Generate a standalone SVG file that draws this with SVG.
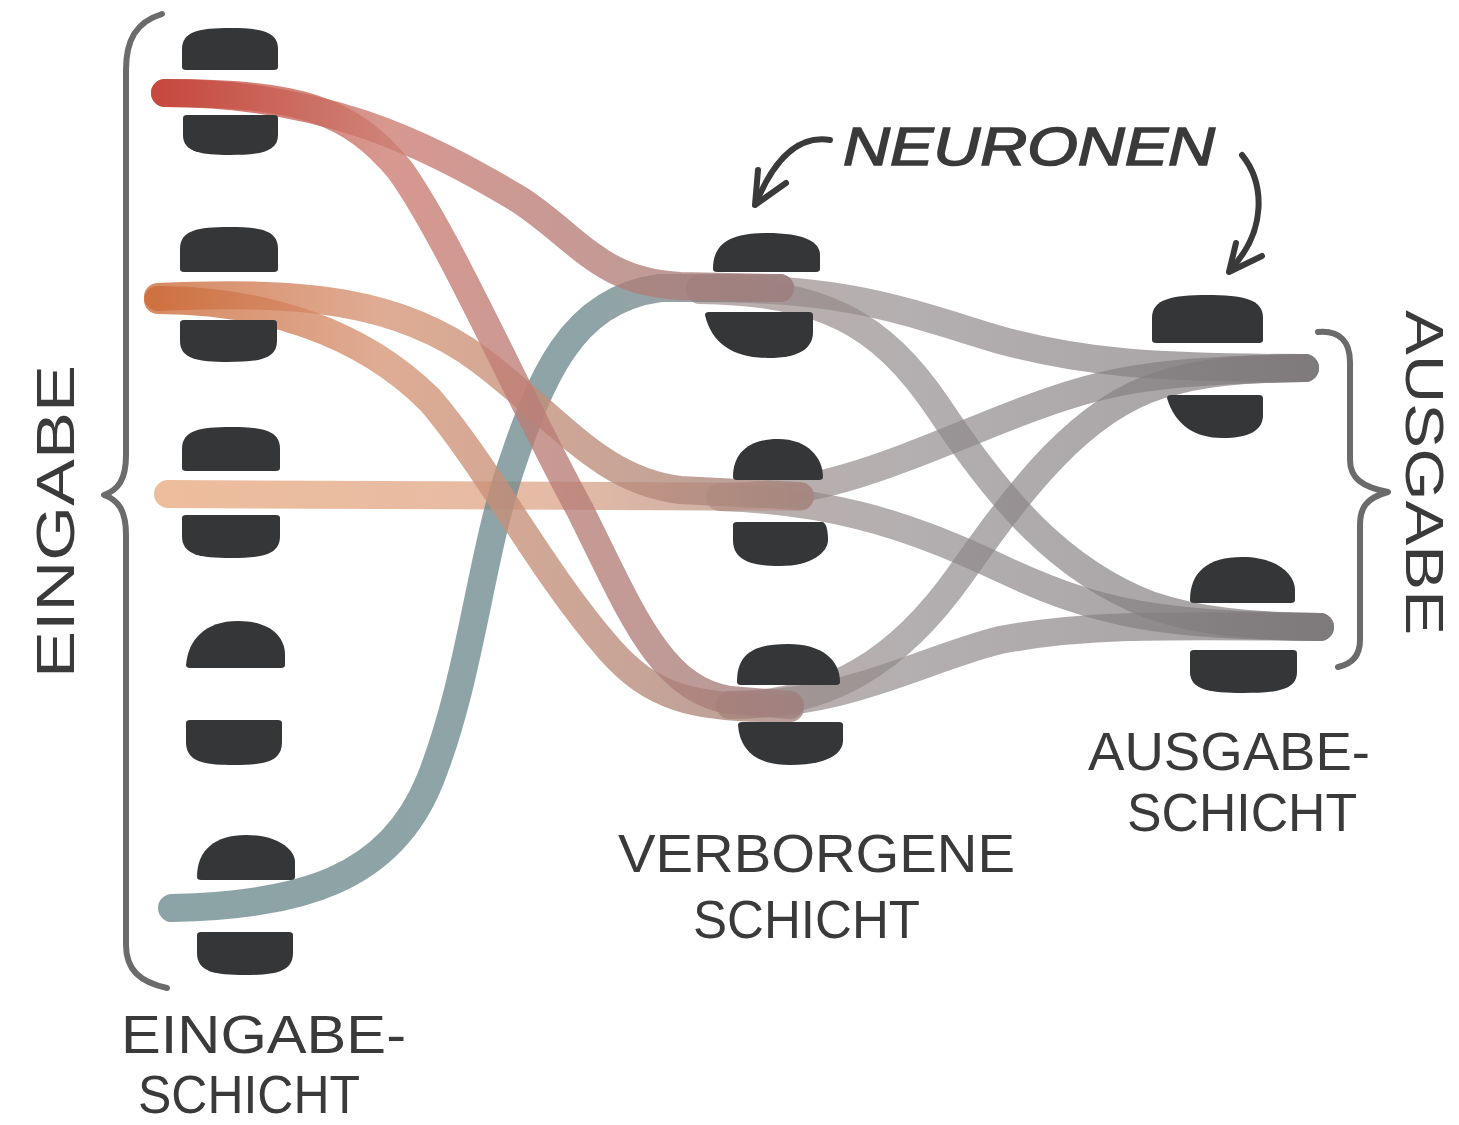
<svg xmlns="http://www.w3.org/2000/svg" width="1459" height="1125" viewBox="0 0 1459 1125">
<style>
.blob{fill:#343638}
.conn{fill:none;stroke-width:28;stroke-linecap:round;stroke-linejoin:round}
.inp{stroke-opacity:0.78}
.hid{stroke:url(#gGray);stroke-opacity:0.68}
.lbl{font-family:"Liberation Sans",Arial,sans-serif;fill:#3a3a3a;font-size:53px}
.brace{fill:none;stroke:#6b6b6b;stroke-width:6;stroke-linecap:round;stroke-linejoin:round}
.arrow{fill:none;stroke:#3a3a3a;stroke-width:6;stroke-linecap:round;stroke-linejoin:round}
</style>
<defs>
<linearGradient id="gRed" gradientUnits="userSpaceOnUse" x1="160" y1="0" x2="800" y2="0">
<stop offset="0" stop-color="#c43f34"/><stop offset="0.35" stop-color="#cc7b70"/><stop offset="1" stop-color="#9e7f7e"/>
</linearGradient>
<linearGradient id="gOrange" gradientUnits="userSpaceOnUse" x1="155" y1="0" x2="800" y2="0">
<stop offset="0" stop-color="#cc6a38"/><stop offset="0.35" stop-color="#d69475"/><stop offset="1" stop-color="#a3847d"/>
</linearGradient>
<linearGradient id="gPeach" gradientUnits="userSpaceOnUse" x1="165" y1="0" x2="800" y2="0">
<stop offset="0" stop-color="#e8aa80"/><stop offset="0.6" stop-color="#dfa88c"/><stop offset="1" stop-color="#b4938e"/>
</linearGradient>
<linearGradient id="gTeal" gradientUnits="userSpaceOnUse" x1="170" y1="0" x2="780" y2="0">
<stop offset="0" stop-color="#6c8a8e"/><stop offset="0.7" stop-color="#6f8a8e"/><stop offset="1" stop-color="#8f8587"/>
</linearGradient>
<linearGradient id="gGray" gradientUnits="userSpaceOnUse" x1="700" y1="0" x2="1320" y2="0">
<stop offset="0" stop-color="#9c8887"/><stop offset="0.35" stop-color="#8f898a"/><stop offset="1" stop-color="#7a7576"/>
</linearGradient>
</defs>
<rect width="1459" height="1125" fill="#ffffff"/>

<g id="connectors">
<path class="conn hid" d="M700,288 C850,288 900,310 1000,340 C1080,362 1150,368 1305,368"/>
<path class="conn hid" d="M700,290 C820,292 880,320 940,410 C1000,500 1060,570 1150,605 C1200,622 1250,626 1320,627"/>
<path class="conn hid" d="M720,497 C820,497 900,460 1000,420 C1100,380 1150,370 1305,368"/>
<path class="conn hid" d="M720,497 C820,500 900,520 1000,568 C1100,615 1160,625 1320,627"/>
<path class="conn hid" d="M730,705 C830,705 900,660 960,575 C1020,490 1080,410 1160,385 C1200,372 1240,369 1305,368"/>
<path class="conn hid" d="M730,705 C850,705 920,660 1000,640 C1080,625 1150,625 1320,627"/>
<path class="conn inp" stroke="url(#gPeach)" d="M168,494 L800,497"/>
<path class="conn inp" stroke="url(#gTeal)" d="M172,908 C300,905 390,880 430,780 C470,680 480,560 510,470 C540,380 570,300 660,288 L780,288"/>
<path class="conn inp" stroke="url(#gOrange)" d="M158,297 C300,290 400,300 480,360 C560,420 600,480 680,490 L800,496"/>
<path class="conn inp" stroke="url(#gOrange)" d="M158,300 C260,300 360,330 430,400 C490,470 540,570 610,650 C650,695 690,710 790,708"/>
<path class="conn inp" stroke="url(#gRed)" d="M165,93 C320,93 420,140 520,200 C580,240 600,282 680,286 L780,288"/>
<path class="conn inp" stroke="url(#gRed)" d="M165,93 C300,93 350,110 400,170 C450,240 520,400 580,510 C630,610 660,690 730,700 L790,705"/>
</g>

<g id="input-neuron-1">
<path class="blob" d="M182,67 L182,49 C182,31 200,28 230,28 C260,28 278,31 278,49 L278,67 Q278,70 274,70 L186,70 Q182,70 182,67 Z"/>
<path class="blob" d="M183,118 L183,135 C183,152 201,155 230,155 C260,155 278,152 278,135 L278,118 Q278,115 274,115 L187,115 Q183,115 183,118 Z"/>
</g>
<g id="input-neuron-2">
<path class="blob" d="M180,269 L180,249 C180,230 198,227 229,227 C260,227 278,230 278,249 L278,269 Q278,272 274,272 L184,272 Q180,272 180,269 Z"/>
<path class="blob" d="M180,323 L180,341 C180,359 198,362 228,362 C259,362 277,359 277,341 L277,323 Q277,320 273,320 L184,320 Q180,320 180,323 Z"/>
</g>
<g id="input-neuron-3">
<path class="blob" d="M182,468 L182,449 C182,430 200,427 231,427 C262,427 280,430 280,449 L280,468 Q280,471 276,471 L186,471 Q182,471 182,468 Z"/>
<path class="blob" d="M182,518 L182,536 C182,555 200,558 231,558 C262,558 280,555 280,536 L280,518 Q280,515 276,515 L186,515 Q182,515 182,518 Z"/>
</g>
<g id="input-neuron-4">
<path class="blob" d="M186,665 C188,640 205,621 238,621 C268,621 285,635 285,655 L285,665 Q285,668 281,668 L190,668 Q186,668 186,665 Z"/>
<path class="blob" d="M186,723 L186,742 C186,762 204,765 234,765 C264,765 282,762 282,742 L282,723 Q282,720 278,720 L190,720 Q186,720 186,723 Z"/>
</g>
<g id="input-neuron-5">
<path class="blob" d="M197,877 C197,850 215,835 246,835 C278,835 295,850 295,862 L295,877 Q295,880 291,880 L201,880 Q197,880 197,877 Z"/>
<path class="blob" d="M197,935 L197,953 C197,972 215,975 245,975 C275,975 293,972 293,953 L293,935 Q293,932 289,932 L201,932 Q197,932 197,935 Z"/>
</g>

<g id="hidden-neuron-1">
<path class="blob" d="M713,269 C713,245 728,233 766,233 C805,233 820,242 820,255 L820,269 Q820,272 816,272 L717,272 Q713,272 713,269 Z"/>
<path class="blob" d="M705,315 C712,345 735,358 768,358 C800,358 813,348 813,332 L813,315 Q813,312 809,312 L709,312 Q705,312 705,315 Z"/>
</g>
<g id="hidden-neuron-2">
<path class="blob" d="M733,477 C733,452 750,439 778,439 C808,439 823,458 823,477 Q823,480 819,480 L737,480 Q733,480 733,477 Z"/>
<path class="blob" d="M733,525 L733,540 C733,560 750,566 780,566 C812,566 828,552 828,540 C828,530 826,522 822,522 L737,522 Q733,522 733,525 Z"/>
</g>
<g id="hidden-neuron-3">
<path class="blob" d="M737,682 C737,655 752,644 788,644 C822,644 840,660 840,682 Q840,685 836,685 L741,685 Q737,685 737,682 Z"/>
<path class="blob" d="M738,725 C740,752 758,765 790,765 C825,765 843,755 843,740 L843,725 Q843,722 839,722 L742,722 Q738,722 738,725 Z"/>
</g>

<g id="output-neuron-1">
<path class="blob" d="M1152,340 L1152,318 C1152,299 1172,295 1207,295 C1243,295 1263,299 1263,318 L1263,340 Q1263,343 1259,343 L1156,343 Q1152,343 1152,340 Z"/>
<path class="blob" d="M1167,398 C1175,425 1195,438 1222,438 C1250,438 1263,430 1263,415 L1263,398 Q1263,395 1259,395 L1171,395 Q1167,395 1167,398 Z"/>
</g>
<g id="output-neuron-2">
<path class="blob" d="M1190,600 C1190,572 1208,557 1242,557 C1278,557 1295,575 1295,590 L1295,600 Q1295,603 1291,603 L1194,603 Q1190,603 1190,600 Z"/>
<path class="blob" d="M1190,653 L1190,672 C1190,690 1210,693 1243,693 C1277,693 1297,690 1297,672 L1297,653 Q1297,650 1293,650 L1194,650 Q1190,650 1190,653 Z"/>
</g>

<g id="braces">
<path class="brace" d="M162,14 C136,22 126,40 126,70 L126,455 C126,480 118,490 104,495 C118,500 126,510 126,535 L126,945 C126,970 140,982 167,988"/>
<path class="brace" d="M1318,332 C1340,330 1350,342 1350,362 L1350,460 C1350,478 1362,487 1388,492 C1366,498 1360,508 1360,525 L1360,640 C1360,656 1352,664 1338,667"/>
</g>

<g id="neuronen-arrows">
<path class="arrow" d="M830,140 C805,136 778,150 756,203"/>
<path class="arrow" d="M758,170 L755,205 L786,183"/>
<path class="arrow" d="M1242,155 C1264,182 1268,230 1230,270"/>
<path class="arrow" d="M1236,243 L1229,272 L1262,256"/>
</g>

<g id="labels">
<text class="lbl" x="843" y="165" font-size="62" font-style="italic" stroke="#3a3a3a" stroke-width="1.5" textLength="372" lengthAdjust="spacingAndGlyphs">NEURONEN</text>
<text class="lbl" x="121" y="1053" textLength="285" lengthAdjust="spacingAndGlyphs">EINGABE-</text>
<text class="lbl" x="138" y="1113" textLength="222" lengthAdjust="spacingAndGlyphs">SCHICHT</text>
<text class="lbl" x="618" y="872" textLength="397" lengthAdjust="spacingAndGlyphs">VERBORGENE</text>
<text class="lbl" x="693" y="938" textLength="227" lengthAdjust="spacingAndGlyphs">SCHICHT</text>
<text class="lbl" x="1088" y="770" textLength="282" lengthAdjust="spacingAndGlyphs">AUSGABE-</text>
<text class="lbl" x="1127" y="831" textLength="230" lengthAdjust="spacingAndGlyphs">SCHICHT</text>
<text class="lbl" font-size="66" transform="translate(74,678) rotate(-90)" textLength="313" lengthAdjust="spacingAndGlyphs">EINGABE</text>
<text class="lbl" font-size="66" transform="translate(1406,310) rotate(90)" textLength="325" lengthAdjust="spacingAndGlyphs">AUSGABE</text>
</g>
</svg>
